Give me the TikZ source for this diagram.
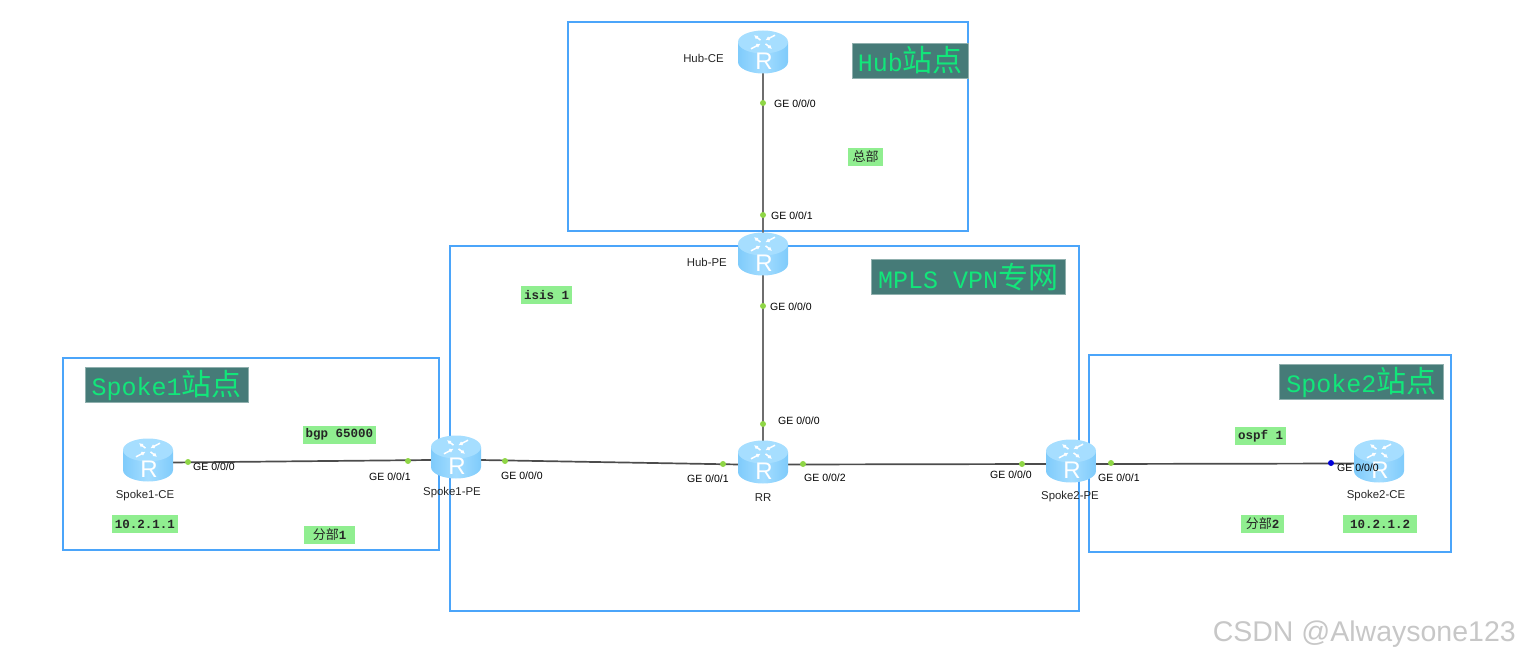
\documentclass[tikz,border=0pt]{standalone}
\usepackage{fontspec}
\setmainfont{Liberation Sans}
\setmonofont{Liberation Mono}
\newfontfamily\cjk{Noto Sans CJK SC}
\usetikzlibrary{arrows.meta}
\definecolor{boxblue}{HTML}{4BA5FA}
\definecolor{headbg}{HTML}{467B78}
\definecolor{headfg}{HTML}{12E67A}
\definecolor{notebg}{HTML}{90EE90}
\definecolor{portgreen}{HTML}{8FD646}
\definecolor{linkgray}{HTML}{6E6E6E}
\definecolor{routertop}{HTML}{A6DEFF}
\definecolor{routerside}{HTML}{7FCBFB}
\definecolor{routermid}{HTML}{A4DDFF}
\tikzset{
  x=1pt,y=-1pt,
  sitebox/.style={draw=boxblue,line width=1.7pt},
  headtag/.style={fill=headbg,draw=headbg!60!white,line width=.5pt,text=headfg,inner xsep=2pt,inner ysep=0pt,minimum height=35pt,anchor=west,font=\fontsize{25}{28}\selectfont\ttfamily},
  notetag/.style={fill=notebg,inner sep=0pt,minimum height=18pt,font=\fontsize{12.5}{14}\selectfont\ttfamily\bfseries,text=black!85},
  portlabel/.style={font=\fontsize{10.5}{12}\selectfont,anchor=west,inner sep=0pt,text=black},
  devlabel/.style={font=\fontsize{11.4}{12}\selectfont,inner sep=0pt,text=black!85},
  anchorbox/.style={minimum width=48pt,minimum height=30pt,inner sep=0pt},
  portdot/.style={circle,fill=portgreen,inner sep=0pt,minimum size=6pt},
  bluedot/.style={circle,fill=blue!85!black,inner sep=0pt,minimum size=6pt},
  trunk/.style={draw=linkgray,line width=2.6pt},
  access/.style={draw=black!70,line width=1.7pt},
}
\newcommand{\cjkn}[1]{{\cjk\mdseries\fontsize{13}{14}\selectfont #1}}
\newcommand{\cjkh}[1]{{\cjk\fontsize{30}{32}\selectfont #1}}
\newcommand{\routerat}[2]{%
  \begin{scope}[shift={(#1,#2)}]
    \path[left color=routerside,right color=routerside,middle color=routermid]
      (-25,-10) -- (-25,10) arc[start angle=180,end angle=360,x radius=25pt,y radius=11.5pt] -- (25,-10) -- cycle;
    \path[fill=routertop] (0,-10) ellipse[x radius=25pt,y radius=11.5pt];
    \begin{scope}[shift={(0,-10)},yscale=.62]
      \draw[white,line width=1.5pt,-{Latex[length=4pt,width=4.5pt]}] (-2.5,-3) -- (-9,-11);
      \draw[white,line width=1.5pt,-{Latex[length=4pt,width=4.5pt]}] (12,-11) -- (2.5,-3);
      \draw[white,line width=1.5pt,-{Latex[length=4pt,width=4.5pt]}] (-12,11) -- (-2.5,3);
      \draw[white,line width=1.5pt,-{Latex[length=4pt,width=4.5pt]}] (2.5,3) -- (9,11);
    \end{scope}
    \node[text=white,inner sep=0pt,font=\fontsize{24}{26}\selectfont] (r#1x#2) at (1,9.5) {R};
  \end{scope}}
\begin{document}
\begin{tikzpicture}
\useasboundingbox (0,0) rectangle (1519,660);
% site boxes
\draw[sitebox] (568,22) rectangle (968,231);
\draw[sitebox] (450,246) rectangle (1079,611);
\draw[sitebox] (63,358) rectangle (439,550);
\draw[sitebox] (1089,355) rectangle (1451,552);
% router anchors
\node[anchorbox] (hubce) at (763,52) {};
\node[anchorbox] (hubpe) at (763,254) {};
\node[anchorbox] (rr) at (763,464.5) {};
\node[anchorbox] (s1ce) at (148,462.5) {};
\node[anchorbox] (s1pe) at (456,460) {};
\node[anchorbox] (s2pe) at (1071,464) {};
\node[anchorbox] (s2ce) at (1379,463.5) {};
% connectors
\draw[trunk] (hubce) -- (hubpe);
\draw[trunk] (hubpe) -- (rr);
\draw[access] (s1ce.east) -- (s1pe.west);
\draw[access] (s1pe.east) -- (rr.west);
\draw[access] (rr.east) -- (s2pe.west);
\draw[access] (s2pe.east) -- (s2ce.west);
% routers
\routerat{763}{52}
\routerat{763}{254}
\routerat{763}{462}
\routerat{148}{460}
\routerat{456}{457}
\routerat{1071}{461}
\routerat{1379}{461}
% port dots
\node[portdot] (p1) at (763,103) {};
\node[portdot] (p2) at (763,215) {};
\node[portdot] (p3) at (763,306) {};
\node[portdot] (p4) at (763,424) {};
\node[portdot] (p5) at (723,464) {};
\node[portdot] (p6) at (803,464) {};
\node[portdot] (p7) at (1022,464) {};
\node[portdot] (p8) at (1111,463) {};
\node[bluedot] (p9) at (1331,463) {};
\node[portdot] (p10) at (505,461) {};
\node[portdot] (p11) at (408,461) {};
\node[portdot] (p12) at (188,462) {};
% port labels
\node[portlabel] (l1) at (774,104) {GE 0/0/0};
\node[portlabel] (l2) at (771,216) {GE 0/0/1};
\node[portlabel] (l3) at (770,307) {GE 0/0/0};
\node[portlabel] (l4) at (778,421) {GE 0/0/0};
\node[portlabel] (l5) at (687,479) {GE 0/0/1};
\node[portlabel] (l6) at (804,478) {GE 0/0/2};
\node[portlabel] (l7) at (990,475) {GE 0/0/0};
\node[portlabel] (l8) at (1098,478) {GE 0/0/1};
\node[portlabel] (l9) at (1337,468) {GE 0/0/0};
\node[portlabel] (l10) at (501,476) {GE 0/0/0};
\node[portlabel] (l11) at (369,477) {GE 0/0/1};
\node[portlabel] (l12) at (193,467) {GE 0/0/0};
% device labels
\node[devlabel,anchor=east] (d1) at (724,58) {Hub-CE};
\node[devlabel,anchor=east] (d2) at (727,262) {Hub-PE};
\node[devlabel] (d3) at (763,498) {RR};
\node[devlabel] (d4) at (145,496) {Spoke1-CE};
\node[devlabel] (d5) at (452,493) {Spoke1-PE};
\node[devlabel] (d6) at (1070,497) {Spoke2-PE};
\node[devlabel] (d7) at (1376,496) {Spoke2-CE};
% site headers
\node[headtag,minimum width=116pt] (h1) at (852,60.5) {\raisebox{1pt}{Hub\cjkh{站点}}\hspace{6pt}};
\node[headtag,minimum width=194pt] (h2) at (871,277) {\raisebox{1pt}{MPLS VPN\cjkh{专网}}\hspace{6pt}};
\node[headtag,minimum width=163pt] (h3) at (85,385) {\raisebox{1pt}{Spoke1\cjkh{站点}}\hspace{6pt}};
\node[headtag,minimum width=164pt] (h4) at (1279,382) {\raisebox{1pt}{Spoke2\cjkh{站点}}\hspace{6pt}};
% notes
\node[notetag,minimum width=51pt] (n1) at (546.5,295) {isis 1};
\node[notetag,minimum width=73pt] (n2) at (339.5,434.5) {bgp 65000};
\node[notetag,minimum width=66pt] (n3) at (145,524) {10.2.1.1};
\node[notetag,minimum width=51pt] (n4) at (329.5,535) {\cjkn{分部}1\hspace{12pt}};
\node[notetag,minimum width=35pt] (n5) at (865.5,157) {\cjkn{总部}};
\node[notetag,minimum width=51pt] (n6) at (1260.5,436) {ospf 1};
\node[notetag,minimum width=43pt] (n7) at (1262.5,523.5) {\cjkn{分部}2};
\node[notetag,minimum width=74pt] (n8) at (1380,524) {10.2.1.2};
% watermark
\node[anchor=east,inner sep=0pt,text=black!22,font=\fontsize{28.5}{30}\selectfont] (wm) at (1516,634) {CSDN @Alwaysone123};
\end{tikzpicture}
\end{document}
